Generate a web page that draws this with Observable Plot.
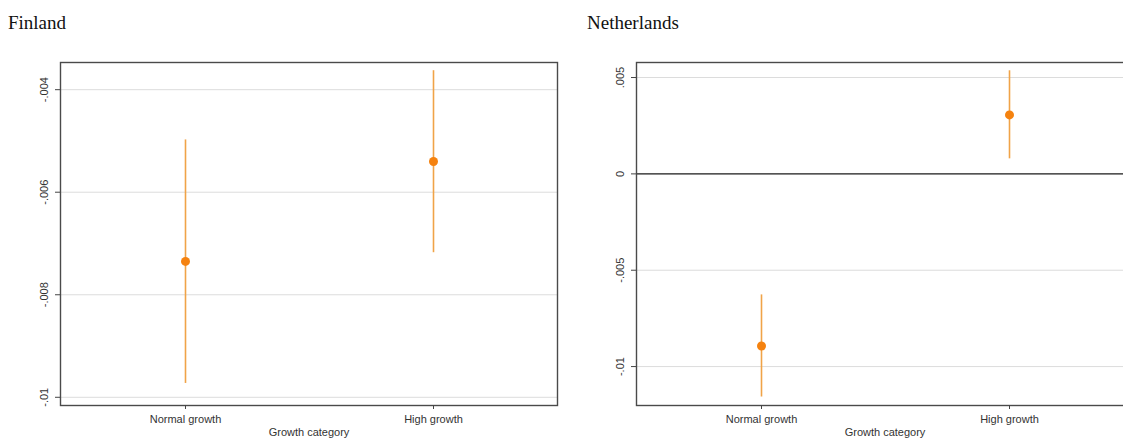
<!DOCTYPE html>
<html>
<head>
<meta charset="utf-8">
<script src="https://cdn.jsdelivr.net/npm/d3@7"></script>
<script src="https://cdn.jsdelivr.net/npm/@observablehq/plot@0.6"></script>
<style>
  html, body { margin: 0; padding: 0; background: #fff; overflow: hidden; }
  #wrap { position: relative; width: 1123px; height: 440px; overflow: hidden; }
  .title { position: absolute; top: 12px; font-family: "Liberation Serif", "Times New Roman", serif; font-size: 19px; color: #111; }
  .panel { position: absolute; top: 40px; width: 560px; height: 400px; }
  .panel svg { max-width: none !important; }
</style>
</head>
<body>
<div id="wrap">
  <div class="title" style="left:8px">Finland</div>
  <div class="title" style="left:587px">Netherlands</div>
  <div class="panel" id="p1" style="left:0px"></div>
  <div class="panel" id="p2" style="left:576px"></div>
</div>
<script>
const categories = ["Normal growth", "High growth"];
const finlandEst = [-0.00735, -0.00540];
const finlandLo  = [-0.00973, -0.00718];
const finlandHi  = [-0.00498, -0.00363];
const nlEst = [-0.00893, 0.00306];
const nlLo  = [-0.01158, 0.00078];
const nlHi  = [-0.00628, 0.00535];
const finlandTicks = [-0.004, -0.006, -0.008, -0.01];
const nlTicks = [0.005, 0, -0.005, -0.01];
const xLabel = "Growth category";

const fmt = d => d === 0 ? "0" : String(d).replace("0.", ".");
const orange = "#f5820f";
const lineOrange = "#f0a348";

function panel(est, lo, hi, ticks, domain, zeroLine) {
  const rows = categories.map((c, i) => ({cat: c, est: est[i], lo: lo[i], hi: hi[i]}));
  const marks = [
    Plot.gridY(ticks, {stroke: "#dcdcdc", strokeOpacity: 1, strokeWidth: 1}),
  ];
  if (zeroLine) marks.push(Plot.ruleY([0], {stroke: "#222", strokeWidth: 1.2}));
  marks.push(
    Plot.ruleX(rows, {x: "cat", y1: "lo", y2: "hi", stroke: lineOrange, strokeWidth: 1.6}),
    Plot.dot(rows, {x: "cat", y: "est", r: 4.5, fill: orange, stroke: "none"}),
    Plot.frame({stroke: "#4a4a4a", strokeWidth: 1.4}),
    Plot.axisY(ticks, {tickFormat: fmt, tickRotate: -90, tickSize: 5, tickPadding: 8, stroke: "#444", fill: "#333", label: null}),
    Plot.axisX({tickSize: 4, tickPadding: 6, stroke: "#444", fill: "#333", label: xLabel, labelAnchor: "center", labelOffset: 30, labelArrow: "none"})
  );
  return Plot.plot({
    width: 560,
    height: 400,
    marginTop: 22,
    marginBottom: 35,
    marginLeft: 60,
    marginRight: 3,
    style: {fontFamily: "'Liberation Sans', Arial, sans-serif", fontSize: "11px", color: "#333", background: "transparent"},
    x: {type: "point", domain: categories, padding: 0.5},
    y: {domain: domain},
    marks
  });
}

document.getElementById("p1").append(panel(finlandEst, finlandLo, finlandHi, finlandTicks, [-0.01016, -0.00347], false));
document.getElementById("p2").append(panel(nlEst, nlLo, nlHi, nlTicks, [-0.01202, 0.00578], true));
</script>
</body>
</html>
